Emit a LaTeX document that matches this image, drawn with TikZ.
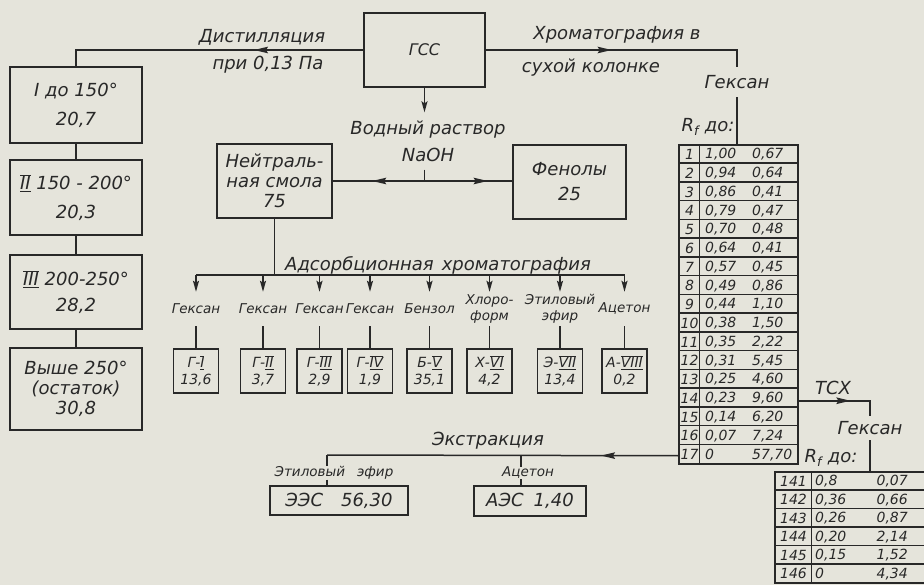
\documentclass[tikz,border=0pt]{standalone}
\usepackage{fontspec}
\setmainfont{DejaVu Sans}
\usetikzlibrary{arrows.meta,decorations.markings,calc}
\definecolor{paper}{RGB}{229,228,219}
\definecolor{ink}{RGB}{40,40,40}
\newcommand\rn[1]{\ensuremath{\overline{\underline{\hbox{#1}}}}}
\tikzset{
  every node/.style={text=ink, font=\itshape},
  box/.style={draw=ink, line width=1.5pt, inner sep=0pt, align=center},
  conn/.style={draw=ink, line width=1.5pt},
  midarrow/.style={postaction={decorate}, decoration={markings, mark=at position #1 with {\arrow[line width=1.5pt]{Stealth[length=14pt,width=6.5pt,inset=2pt]}}}},
  endtip/.style={-{Stealth[length=11pt,width=6pt,inset=2pt]}},
  fL/.style={font=\itshape\fontsize{18}{21}\selectfont},
  fM/.style={font=\itshape\fontsize{13.5}{16}\selectfont},
  fS/.style={font=\itshape\fontsize{14}{17}\selectfont},
}
\begin{document}
\begin{tikzpicture}[x=1pt,y=-1pt]
\useasboundingbox (0,0) rectangle (924,585);
\fill[paper] (0,0) rectangle (924,585);

% top
\node[box, font=\itshape\fontsize{16}{19}\selectfont, minimum width=121pt, minimum height=74pt] (gss) at (424.5,50) {ГСС};
\node[fL] (dist) at (262,37) {Дистилляция};
\node[fL] (pri) at (268,65) {при 0,13 Па};
\node[fL] (chrom) at (617,35) {Хроматография в};
\node[fL] (dry) at (591,68) {сухой\hspace{6pt}колонке};

% left column
\node[box, fL, minimum width=132pt, minimum height=76pt] (b1) at (76,105) {I до 150°\\[8pt]20,7};
\node[box, fL, minimum width=132pt, minimum height=75pt] (b2) at (76,197.5) {\rn{II} 150 - 200°\\[8pt]20,3};
\node[box, fL, minimum width=132pt, minimum height=74pt] (b3) at (76,292) {\rn{III} 200-250°\\[5pt]28,2};
\node[box, fL, minimum width=132pt, minimum height=82pt] (b4) at (76,389) {Выше 250°\\[-1pt](остаток)\\[-1pt]30,8};
\draw[conn, midarrow=0.36] (gss.west) -| (b1.north);
\draw[conn] (b1.south) -- (b2.north);
\draw[conn] (b2.south) -- (b3.north);
\draw[conn] (b3.south) -- (b4.north);

% NaOH
\node[fL, align=center, inner ysep=8pt] (vod) at (428,141) {Водный раствор\\[6pt]NaOH};
\node[box, fL, minimum width=115pt, minimum height=74pt] (neut) at (274.5,181) {Нейтраль-\\[-1pt]ная смола\\[-1pt]75};
\node[box, fL, minimum width=113pt, minimum height=74pt] (phen) at (569.5,182) {Фенолы\\[4pt]25};
\draw[conn, endtip] (gss.south) -- (gss.south |- vod.north);
\coordinate (naoh) at (gss.south |- neut.east);
\draw[conn] (gss.south |- vod.south) -- (naoh);
\draw[conn, midarrow=0.57] (naoh) -- (neut.east);
\draw[conn, midarrow=0.72] (naoh) -- (naoh -| phen.west);

% dry column chromatography
\node[fL, inner ysep=8.5pt] (hex1) at (737,82) {Гексан};
\draw[conn, midarrow=0.47] (gss.east) -| (hex1.north);
\node[fL] (rf1) at (708,127) {R\textsubscript{f} до:};
\node[draw=ink, line width=1.5pt, inner sep=0pt, minimum width=119pt, minimum height=319pt] (tab1) at (738.5,304.5) {};
\draw[conn] (hex1.south) -- (hex1.south |- tab1.north);
\foreach \i in {1,...,16} {
  \draw[conn] ($(tab1.north west)+(0,\i*18.765)$) -- ($(tab1.north east)+(0,\i*18.765)$);
}
\draw[conn] ($(tab1.north west)+(21,0)$) -- ($(tab1.south west)+(21,0)$);
\foreach \n/\a/\b [count=\i] in {1/1{,}00/0{,}67, 2/0{,}94/0{,}64, 3/0{,}86/0{,}41, 4/0{,}79/0{,}47, 5/0{,}70/0{,}48, 6/0{,}64/0{,}41, 7/0{,}57/0{,}45, 8/0{,}49/0{,}86, 9/0{,}44/1{,}10, 10/0{,}38/1{,}50, 11/0{,}35/2{,}22, 12/0{,}31/5{,}45, 13/0{,}25/4{,}60, 14/0{,}23/9{,}60, 15/0{,}14/6{,}20, 16/0{,}07/7{,}24, 17/0/57{,}70} {
  \node[fS, inner sep=0pt] (ta\i) at (689.5,{145+(\i-0.5)*18.765}) {\n};
  \node[fS, inner sep=0pt, anchor=west] (tb\i) at (705,{145+(\i-0.5)*18.765}) {\a};
  \node[fS, inner sep=0pt, anchor=west] (tc\i) at (752,{145+(\i-0.5)*18.765}) {\b};
}

% TSX
\coordinate (tcx0) at ([yshift=64pt]tab1.south east);
\node[fL] (tcx) at (833,388) {ТСХ};
\node[fL, inner ysep=5.5pt] (hex2) at (870,428) {Гексан};
\draw[conn, midarrow=0.6] (tcx0) -| (hex2.north);
\node[fL] (rf2) at (831,458) {R\textsubscript{f} до:};
\node[draw=ink, line width=1.5pt, inner sep=0pt, minimum width=151pt, minimum height=111pt] (tab2) at (850.5,527.5) {};
\draw[conn] (hex2.south) -- (hex2.south |- tab2.north);
\foreach \i in {1,...,5} {
  \draw[conn] ($(tab2.north west)+(0,\i*18.5)$) -- ($(tab2.north east)+(0,\i*18.5)$);
}
\draw[conn] ($(tab2.north west)+(37,0)$) -- ($(tab2.south west)+(37,0)$);
\foreach \n/\a/\b [count=\i] in {141/0{,}8/0{,}07, 142/0{,}36/0{,}66, 143/0{,}26/0{,}87, 144/0{,}20/2{,}14, 145/0{,}15/1{,}52, 146/0/4{,}34} {
  \node[fS, inner sep=0pt] (ua\i) at (793.5,{472+(\i-0.5)*18.5}) {\n};
  \node[fS, inner sep=0pt, anchor=west] (ub\i) at (815,{472+(\i-0.5)*18.5}) {\a};
  \node[fS, inner sep=0pt, anchor=east] (uc\i) at (908,{472+(\i-0.5)*18.5}) {\b};
}

% adsorption chromatography
\coordinate (adsL) at (196,275);
\coordinate (adsR) at (624.5,275);
\draw[conn] (neut.south) -- (neut.south |- adsL);
\draw[conn] (adsL) -- (adsR);
\node[fL] (adsl) at (438,265) {Адсорбционная\hspace{8pt}хроматография};
\foreach \x/\lab/\ta/\tb [count=\k] in {196/Гексан/Г-\rn{I}/13{,}6, 263/Гексан/Г-\rn{II}/3{,}7, 319.5/Гексан/Г-\rn{III}/2{,}9, 370/Гексан/Г-\rn{IV}/1{,}9, 429.5/Бензол/Б-\rn{V}/35{,}1, 489.5/{Хлоро-\\форм}/Х-\rn{VI}/4{,}2, 560/{Этиловый\\эфир}/Э-\rn{VII}/13{,}4, 624.5/Ацетон/А-\rn{VIII}/0{,}2} {
  \coordinate (br\k) at (\x,275);
  \node[fM, align=center, minimum height=34pt, inner ysep=1pt] (lab\k) at (\x,309) {\lab};
  \node[box, fS, minimum width=45pt, minimum height=44pt] (sb\k) at (\x,371) {\ta\\\tb};
  \draw[conn, endtip] (br\k) -- (lab\k.north);
  \draw[conn] (lab\k.south) -- (sb\k.north);
}

% extraction
\coordinate (ex0) at ([yshift=9pt]tab1.south west);
\coordinate (exA) at (327,455);
\coordinate (exB) at (521,455);
\draw[conn, midarrow=0.22] (ex0) -- (exA);
\node[fL] (extr) at (488,441) {Экстракция};
\node[fM, inner sep=0pt] (lblE) at (334,473) {Этиловый\hspace{12pt}эфир};
\node[fM, inner sep=0pt] (lblA) at (528,473) {Ацетон};
\node[box, fL, minimum width=138pt, minimum height=29pt] (ees) at (339,500.5) {ЭЭС\hspace{18pt}56,30};
\node[box, fL, minimum width=112pt, minimum height=30pt] (aes) at (530,501) {АЭС\hspace{10pt}1,40};
\draw[conn] (exA) -- (exA |- lblE.north);
\draw[conn] (exA |- lblE.south) -- (exA |- ees.north);
\draw[conn] (exB) -- (exB |- lblA.north);
\draw[conn] (exB |- lblA.south) -- (exB |- aes.north);
\end{tikzpicture}
\end{document}
